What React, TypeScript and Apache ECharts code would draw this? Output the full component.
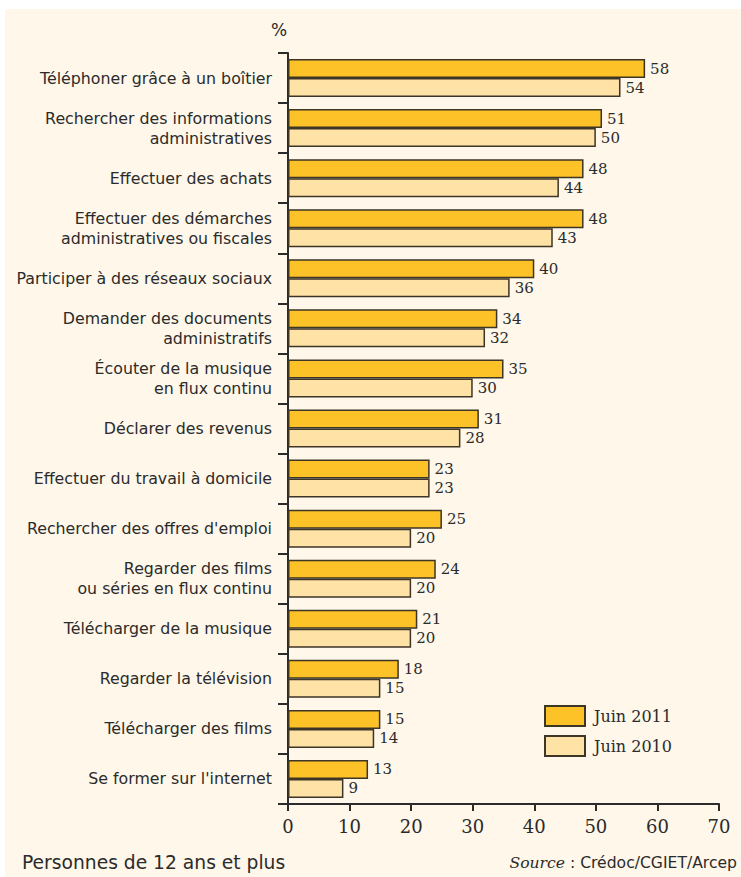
import React, { useEffect, useRef } from "react";
import * as echarts from "echarts";

const categories = [
  "Téléphoner grâce à un boîtier",
  "Rechercher des informations\nadministratives",
  "Effectuer des achats",
  "Effectuer des démarches\nadministratives ou fiscales",
  "Participer à des réseaux sociaux",
  "Demander des documents\nadministratifs",
  "Écouter de la musique\nen flux continu",
  "Déclarer des revenus",
  "Effectuer du travail à domicile",
  "Rechercher des offres d'emploi",
  "Regarder des films\nou séries en flux continu",
  "Télécharger de la musique",
  "Regarder la télévision",
  "Télécharger des films",
  "Se former sur l'internet",
];
const juin2011 = [58, 51, 48, 48, 40, 34, 35, 31, 23, 25, 24, 21, 18, 15, 13];
const juin2010 = [54, 50, 44, 43, 36, 32, 30, 28, 23, 20, 20, 20, 15, 14, 9];
const xTicks = { min: 0, max: 70, interval: 10 };

const SANS = "'DejaVu Sans', 'Noto Sans', sans-serif";
const SERIF = "'DejaVu Serif', 'Liberation Serif', serif";
const INK = "#2b2b2b";
const BORDER = "#3d3526";

export default function App() {
  const ref = useRef<HTMLDivElement>(null);
  useEffect(() => {
    if (!ref.current) return;
    const chart = echarts.init(ref.current, undefined, { renderer: "svg" });
    const labelStyle = {
      show: true,
      position: "right" as const,
      distance: 5,
      fontFamily: SERIF,
      fontSize: 15,
      color: INK,
    };
    chart.setOption({
      animation: false,
      backgroundColor: "#ffffff",
      graphic: [
        {
          type: "rect",
          z: -10,
          shape: { x: 5, y: 9, width: 736, height: 868 },
          style: { fill: "#FEF7EA" },
          silent: true,
        },
        {
          type: "text",
          left: 271,
          top: 21,
          style: { text: "%", fontFamily: SANS, fontSize: 17, fill: INK },
        },
        {
          type: "text",
          left: 22,
          top: 853,
          style: { text: "Personnes de 12 ans et plus", fontFamily: SANS, fontSize: 18.7, fill: INK },
        },
        {
          type: "text",
          right: 4,
          top: 855,
          style: {
            text: "{i|Source} : Crédoc/CGIET/Arcep",
            fontFamily: SANS,
            fontSize: 15.6,
            fill: INK,
            rich: { i: { fontStyle: "italic", fontFamily: SERIF, fontSize: 15.6, fill: INK } },
          },
        },
      ],
      legend: {
        orient: "vertical",
        left: 539,
        top: 700,
        icon: "rect",
        itemWidth: 40,
        itemHeight: 20,
        itemGap: 8,
        textStyle: { fontFamily: SERIF, fontSize: 16, color: INK, padding: [0, 0, 0, 4] },
        data: ["Juin 2011", "Juin 2010"],
      },
      grid: { left: 288, top: 53, right: 22, bottom: 73, containLabel: false },
      xAxis: {
        type: "value",
        min: xTicks.min,
        max: xTicks.max,
        interval: xTicks.interval,
        axisLine: { show: true, lineStyle: { color: INK, width: 2 } },
        axisTick: { show: true, length: 7, lineStyle: { color: INK, width: 2 } },
        splitLine: { show: false },
        axisLabel: { fontFamily: SERIF, fontSize: 18, color: INK, margin: 13 },
      },
      yAxis: {
        type: "category",
        inverse: true,
        data: categories,
        axisLine: { show: true, lineStyle: { color: INK, width: 2 } },
        axisTick: { show: true, length: 10, lineStyle: { color: INK, width: 2 } },
        axisLabel: {
          fontFamily: SANS,
          fontSize: 15.8,
          color: INK,
          margin: 16,
          lineHeight: 20,
          align: "right",
        },
      },
      series: [
        {
          name: "Juin 2011",
          type: "bar",
          data: juin2011,
          barWidth: 19,
          barGap: "0%",
          itemStyle: { color: "#FDC227", borderColor: BORDER, borderWidth: 1.5 },
          label: labelStyle,
        },
        {
          name: "Juin 2010",
          type: "bar",
          data: juin2010,
          barWidth: 19,
          barGap: "0%",
          itemStyle: { color: "#FFE3A6", borderColor: BORDER, borderWidth: 1.5 },
          label: labelStyle,
        },
      ],
    });
    return () => chart.dispose();
  }, []);
  return (
    <div
      ref={ref}
      style={{ position: "absolute", left: 0, top: 0, width: 741, height: 877 }}
    />
  );
}
